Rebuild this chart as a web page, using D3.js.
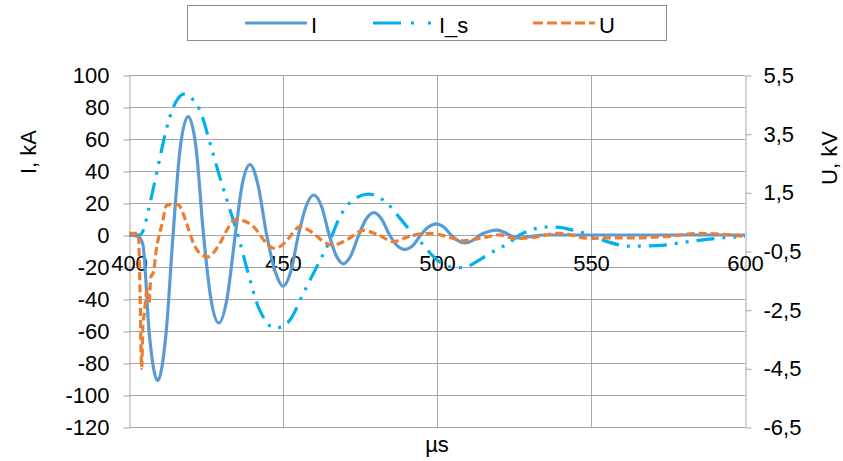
<!DOCTYPE html>
<html>
<head>
<meta charset="utf-8">
<script src="https://cdn.jsdelivr.net/npm/d3@7"></script>
<style>
  body { margin: 0; background: #fff; }
  svg { display: block; font-family: "Liberation Sans", Arial, sans-serif; }
  .grid line { stroke: #a6a6a6; stroke-width: 1; }
  .axis path, .axis line { stroke: #a6a6a6; }
  .axis text { font-size: 22px; fill: #000; }
</style>
</head>
<body>
<div id="chart"></div>
<script>
// tick labels
const xTicks = [400, 450, 500, 550, 600];
const leftTicks = [100, 80, 60, 40, 20, 0, -20, -40, -60, -80, -100, -120];
const rightTicks = [5.5, 3.5, 1.5, -0.5, -2.5, -4.5, -6.5];

// I, kA
const iTime = [400, 403, 404.5, 406.6, 409.3, 412, 414.3, 416.6, 419.2, 421.8, 424.2, 426.6, 429.2, 431.8, 434.5,
  436.8, 439.3, 441.8, 444.7, 447.5, 450, 452.5, 455, 457.5, 460, 462.5, 465, 467.3, 469.6, 472, 474.6,
  477, 479.5, 482, 484.6, 487, 489.6, 492.2, 494.7, 497.2, 499.7, 502.2, 504.6, 506.8, 509, 511.5, 514,
  516.8, 519.5, 522, 524.5, 527, 530, 535, 550, 575, 600];
const iValues = [0, -1, -6, -62, -91, -62, 0, 54, 74, 54, 0, -40, -55, -40, 0,
  32, 44, 32, 0, -23, -32, -23, 0, 18, 25, 18, 0, -13, -18, -13, 0,
  10, 14, 10, 0, -6.5, -9, -6.5, 0, 5, 7, 5, 0, -3.5, -5, -3.5, 0,
  2.2, 3, 1.5, -1, -2, -1, 0, 0, 0, 0];

// I_s, kA
const isTime = [400, 403.5, 405, 406.3, 408, 410, 412, 414.4, 416, 417.8, 419.5, 421, 423, 426.3, 429.5,
  432.8, 435.5, 438.7, 442, 444.5, 447, 449.5, 452.3, 456.6, 460.4, 465.3, 468.5, 472.8, 477.7, 483.7,
  488, 491.2, 495, 500, 503, 506.4, 510, 513, 517.2, 520.5, 523, 526, 529, 532, 535.6, 540, 543, 546.4,
  549.5, 552, 555, 562.7, 571.3, 580, 586.5, 593, 600];
const isValues = [0, 0, 5, 15.6, 30, 48, 65, 80, 85.5, 88, 87, 84, 78, 57.5, 36,
  15.6, -1, -24, -45, -54, -58, -57.5, -53, -36.5, -22, -3, 11.5, 22, 25.5, 20,
  10.4, 3, -5, -15.6, -19, -20.5, -19.5, -16.5, -11.5, -8, -5.5, -1, 2, 4, 5, 4.8, 3.5, 2,
  0, -2, -4, -7, -6.7, -4.6, -3, -1.7, -1];

// U, kV
const uTime = [400, 403, 403.6, 404.1, 404.5, 405, 406, 406.5, 407.1, 408, 408.8, 409.7, 410.8, 412.2, 414,
  416, 417.3, 418.7, 421.4, 423.5, 425.7, 427.5, 429.5, 432.8, 434.5, 436, 440.4, 444.7, 446.9, 449,
  451.3, 455.5, 458.5, 461, 463.5, 466.3, 471, 476, 481, 485.8, 491, 497.7, 503, 508.5, 514, 520.4,
  525, 530, 540, 549.7, 555, 565, 575, 585, 595, 600];
const uValues = [0.1, 0.1, -2, -4.5, -3.1, -2.6, -1.8, -2.3, -1.4, -1.2, -0.5, 0, 0.45, 1.05, 1.1,
  1.08, 0.85, 0.44, -0.35, -0.62, -0.7, -0.55, -0.24, 0.39, 0.57, 0.56, 0.33, -0.24, -0.4, -0.35,
  -0.13, 0.33, 0.2, 0, -0.2, -0.3, -0.1, 0.2, 0.05, -0.18, 0, 0.1, 0, -0.15, -0.07, 0.05,
  -0.07, -0.05, 0.1, -0.07, -0.05, -0.05, 0, 0.1, 0.05, 0];

const width = 843, height = 461;
const plot = { left: 129, right: 745, top: 75, bottom: 427 };

const svg = d3.select("#chart").append("svg")
  .attr("width", width)
  .attr("height", height);

const x = d3.scaleLinear().domain([400, 600]).range([plot.left, plot.right]);
const yL = d3.scaleLinear().domain([-120, 100]).range([plot.bottom, plot.top]);
const yR = d3.scaleLinear().domain([-6.5, 5.5]).range([plot.bottom, plot.top]);

const comma = v => d3.format(".1f")(v).replace(".", ",").replace("−", "-");

// gridlines
const grid = svg.append("g").attr("class", "grid");
grid.selectAll(".h").data(leftTicks).enter().append("line")
  .attr("x1", plot.left).attr("x2", plot.right)
  .attr("y1", d => yL(d) + 0.5).attr("y2", d => yL(d) + 0.5);
grid.selectAll(".v").data(xTicks.slice(1, -1)).enter().append("line")
  .attr("x1", d => x(d) + 0.5).attr("x2", d => x(d) + 0.5)
  .attr("y1", plot.top).attr("y2", plot.bottom);

// left axis
svg.append("g")
  .attr("class", "axis")
  .attr("transform", "translate(" + (plot.left + 0.5) + ",0.5)")
  .call(d3.axisLeft(yL).tickValues(leftTicks).tickSize(6).tickSizeOuter(0).tickPadding(14)
    .tickFormat(d => String(d)));

// right axis
svg.append("g")
  .attr("class", "axis")
  .attr("transform", "translate(" + (plot.right + 0.5) + ",0.5)")
  .call(d3.axisRight(yR).tickValues(rightTicks).tickSize(6).tickSizeOuter(0).tickPadding(12)
    .tickFormat(comma));

// x axis at zero
let xAxis = svg.append("g")
  .attr("class", "axis")
  .attr("transform", "translate(0," + (yL(0) + 0.5) + ")")
  .call(d3.axisBottom(x).tickValues(xTicks).tickSize(0).tickPadding(20));
xAxis.select(".domain").remove();

// series
function drawLine(t, v, yScale, color, dash) {
  let pts = t.map((d, i) => [d, v[i]]);
  let line = d3.line()
    .x(d => x(d[0]))
    .y(d => yScale(d[1]))
    .curve(d3.curveMonotoneX);
  svg.append("path")
    .datum(pts)
    .attr("d", line)
    .attr("fill", "none")
    .attr("stroke", color)
    .attr("stroke-width", 3.2)
    .attr("stroke-dasharray", dash);
}

drawLine(isTime, isValues, yL, "#00b0f0", "18,8,3,8,3,8");
drawLine(iTime, iValues, yL, "#5b9bd5", null);
drawLine(uTime, uValues, yR, "#ed7d31", "8,4");

// axis titles
svg.append("text")
  .attr("transform", "translate(36,152) rotate(-90)")
  .style("text-anchor", "middle")
  .style("font-size", "22px")
  .text("I, kA");

svg.append("text")
  .attr("transform", "translate(837,158) rotate(-90)")
  .style("text-anchor", "middle")
  .style("font-size", "22px")
  .text("U, kV");

svg.append("text")
  .attr("x", 437).attr("y", 452)
  .style("text-anchor", "middle")
  .style("font-size", "22px")
  .text("µs");

// legend
const legendItems = [
  { name: "I", color: "#5b9bd5", dash: null, x0: 245 },
  { name: "I_s", color: "#00b0f0", dash: "28,10,3,14,3,10", x0: 373 },
  { name: "U", color: "#ed7d31", dash: "10,4", x0: 533 }
];

svg.append("rect")
  .attr("x", 187.5).attr("y", 5.5)
  .attr("width", 479).attr("height", 35)
  .attr("fill", "#fff")
  .attr("stroke", "#8c8c8c");

let leg = svg.selectAll(".leg").data(legendItems).enter().append("g");
leg.append("line")
  .attr("x1", d => d.x0).attr("x2", d => d.x0 + 62)
  .attr("y1", 23).attr("y2", 23)
  .attr("stroke", d => d.color)
  .attr("stroke-width", 3.2)
  .attr("stroke-dasharray", d => d.dash);
leg.append("text")
  .attr("x", d => d.x0 + 66).attr("y", 33)
  .style("font-size", "22px")
  .text(d => d.name);
</script>
</body>
</html>
